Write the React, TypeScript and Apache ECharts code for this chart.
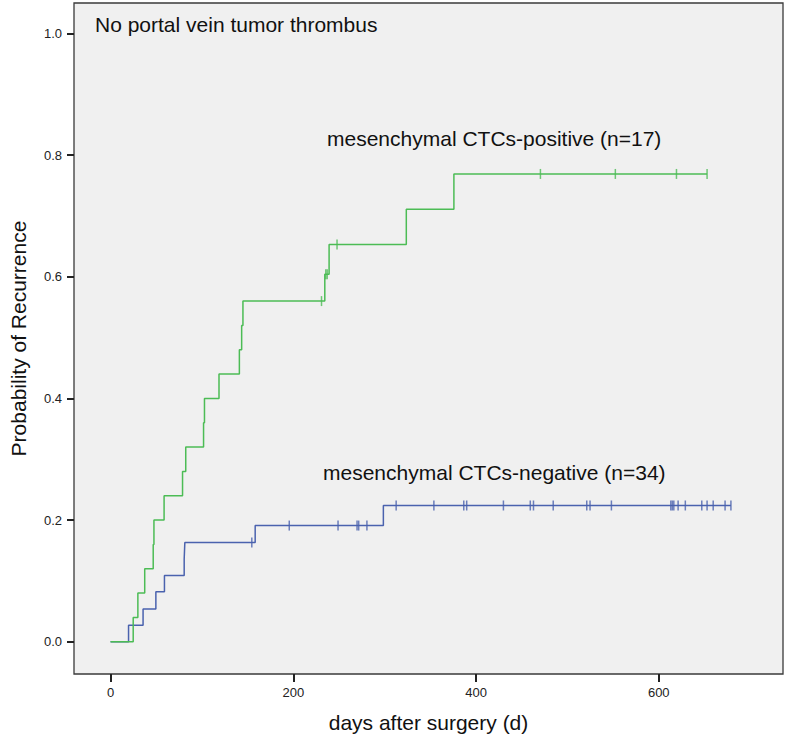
import React, { useEffect, useRef } from "react";
import * as echarts from "echarts";

// Positive group (green): event days and cumulative recurrence after each event
const posEventDays = [24.8, 29.9, 37.4, 46.7, 47.5, 58.6, 78.8, 82.3, 101.8, 102.8, 118.7, 141.0, 143.5, 144.9, 234.5, 239.2, 323.7, 375.8];
const posLevels = [0.04, 0.08, 0.12, 0.16, 0.20, 0.24, 0.28, 0.32, 0.36, 0.40, 0.44, 0.48, 0.52, 0.56, 0.604, 0.653, 0.711, 0.769];
const posCensorDays = [230.9, 235.6, 237.1, 247.9, 470.5, 552.5, 619.4, 652.9];
const posEnd = 652.9;

// Negative group (blue)
const negEventDays = [19.7, 35.6, 49.6, 59.0, 80.6, 81.3, 158.3, 298.6];
const negLevels = [0.027, 0.054, 0.082, 0.109, 0.136, 0.163, 0.191, 0.224];
const negCensorDays = [154.6, 195.6, 249.0, 269.8, 271.6, 280.6, 312.6, 353.9, 386.6, 389.8, 430.0, 459.4, 462.9, 484.5, 521.2, 524.8, 548.2, 613.2, 614.8, 616.5, 621.2, 629.1, 647.1, 652.9, 659.6, 672.6, 679.0];
const negEnd = 679.0;

const xTicks = [0, 200, 400, 600];
const yTicks = [0, 0.2, 0.4, 0.6, 0.8, 1.0];

const titleText = "No portal vein tumor thrombus";
const posLabel = "mesenchymal CTCs-positive (n=17)";
const negLabel = "mesenchymal CTCs-negative (n=34)";
const xName = "days after surgery (d)";
const yName = "Probability of Recurrence";

function stepData(days: number[], levels: number[], end: number) {
  const d: number[][] = [[0, 0]];
  days.forEach((t, i) => d.push([t, levels[i]]));
  d.push([end, levels[levels.length - 1]]);
  return d;
}
function levelAt(days: number[], levels: number[], t: number) {
  let v = 0;
  days.forEach((d, i) => {
    if (d <= t) v = levels[i];
  });
  return v;
}

const GREEN = "#4cbc55";
const BLUE = "#4a62ae";
const FONT = "Liberation Sans, Arial, sans-serif";

export default function App() {
  const ref = useRef<HTMLDivElement>(null);
  useEffect(() => {
    if (!ref.current) return;
    const chart = echarts.init(ref.current, null, { renderer: "svg" });
    chart.setOption({
      animation: false,
      backgroundColor: "#ffffff",
      grid: {
        left: 64,
        top: 3,
        width: 719,
        height: 671,
        show: true,
        backgroundColor: "#f0f0f0",
        borderColor: "#3a3a3a",
        borderWidth: 1.3,
      },
      xAxis: {
        type: "value",
        min: -40,
        max: 736,
        name: xName,
        nameLocation: "middle",
        nameGap: 38,
        nameTextStyle: { fontFamily: FONT, fontSize: 21, color: "#111" },
        axisLine: { show: false, onZero: false },
        splitLine: { show: false },
        axisTick: {
          show: true,
          length: 8,
          customValues: xTicks,
          lineStyle: { color: "#222", width: 2 },
        },
        axisLabel: {
          customValues: xTicks,
          fontFamily: FONT,
          fontSize: 13,
          color: "#222",
          margin: 12,
        },
      },
      yAxis: {
        type: "value",
        min: -0.053,
        max: 1.05,
        name: yName,
        nameLocation: "middle",
        nameGap: 45,
        nameTextStyle: { fontFamily: FONT, fontSize: 21, color: "#111" },
        axisLine: { show: false, onZero: false },
        splitLine: { show: false },
        axisTick: {
          show: true,
          length: 7,
          customValues: yTicks,
          lineStyle: { color: "#222", width: 2 },
        },
        axisLabel: {
          customValues: yTicks,
          formatter: (v: number) => v.toFixed(1),
          fontFamily: FONT,
          fontSize: 13,
          color: "#222",
          margin: 12,
        },
      },
      series: [
        {
          type: "line",
          step: "end",
          data: stepData(negEventDays, negLevels, negEnd),
          showSymbol: false,
          lineStyle: { color: BLUE, width: 1.5 },
          z: 2,
        },
        {
          type: "scatter",
          data: negCensorDays.map((t) => [t, levelAt(negEventDays, negLevels, t)]),
          symbol: "rect",
          symbolSize: [1.5, 10],
          itemStyle: { color: BLUE },
          z: 2,
        },
        {
          type: "line",
          step: "end",
          data: stepData(posEventDays, posLevels, posEnd),
          showSymbol: false,
          lineStyle: { color: GREEN, width: 1.5 },
          z: 3,
        },
        {
          type: "scatter",
          data: posCensorDays.map((t) => [t, levelAt(posEventDays, posLevels, t)]),
          symbol: "rect",
          symbolSize: [1.5, 10],
          itemStyle: { color: GREEN },
          z: 3,
        },
      ],
      graphic: [
        {
          type: "text",
          left: 95,
          top: 14,
          style: { text: titleText, fontFamily: FONT, fontSize: 21, fill: "#111" },
        },
        {
          type: "text",
          left: 327,
          top: 128,
          style: { text: posLabel, fontFamily: FONT, fontSize: 21, fill: "#111" },
        },
        {
          type: "text",
          left: 323,
          top: 462,
          style: { text: negLabel, fontFamily: FONT, fontSize: 21, fill: "#111" },
        },
      ],
    });
    return () => chart.dispose();
  }, []);
  return (
    <div
      ref={ref}
      style={{ position: "absolute", left: 0, top: 0, width: 788, height: 738 }}
    />
  );
}
